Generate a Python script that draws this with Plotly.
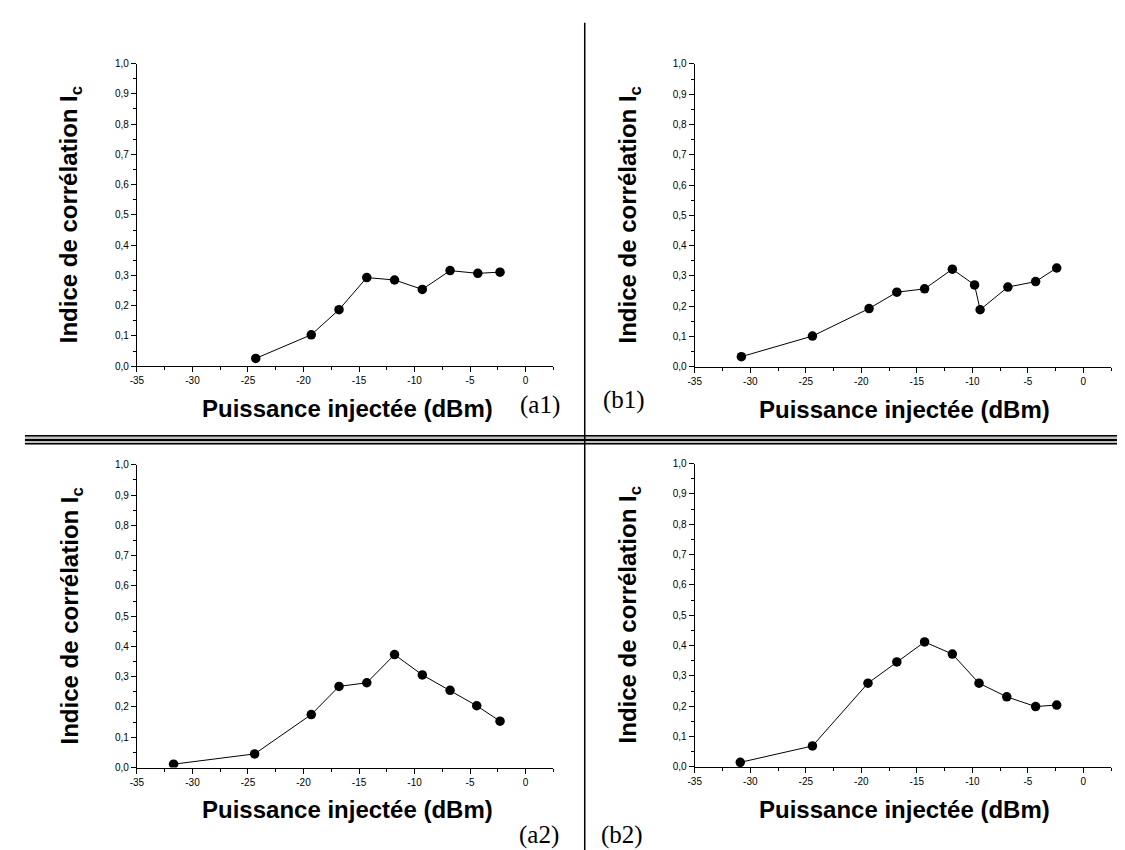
import plotly.graph_objects as go

W, H = 1125, 850

# puissance injectée (dBm) / indice de corrélation Ic
a1_x = [-24.3, -19.3, -16.8, -14.3, -11.8, -9.3, -6.8, -4.3, -2.3]
a1_y = [0.026, 0.104, 0.187, 0.293, 0.285, 0.254, 0.316, 0.307, 0.311]

b1_x = [-30.8, -24.4, -19.3, -16.8, -14.3, -11.8, -9.8, -9.3, -6.8, -4.3, -2.4]
b1_y = [0.033, 0.101, 0.192, 0.246, 0.257, 0.322, 0.270, 0.188, 0.263, 0.281, 0.326]

a2_x = [-31.7, -24.4, -19.3, -16.8, -14.3, -11.8, -9.3, -6.8, -4.4, -2.3]
a2_y = [0.011, 0.045, 0.175, 0.268, 0.280, 0.373, 0.306, 0.255, 0.204, 0.153]

b2_x = [-30.9, -24.4, -19.4, -16.8, -14.3, -11.8, -9.4, -6.9, -4.3, -2.4]
b2_y = [0.015, 0.069, 0.276, 0.346, 0.412, 0.372, 0.276, 0.231, 0.199, 0.204]

x_ticks = [-35, -30, -25, -20, -15, -10, -5, 0]
x_ticklabels = ["-35", "-30", "-25", "-20", "-15", "-10", "-5", "0"]

panel_labels = ["(a1)", "(b1)", "(a2)", "(b2)"]
x_title = "<b>Puissance injectée (dBm)</b>"
y_title = "<b>Indice de corrélation I<sub>c</sub></b>"

# pixel boxes of each plot area: left, right, top, bottom
boxes = [
    (122.7, 541.7, 50.3, 357.3),
    (684.0, 1103.0, 50.7, 357.7),
    (122.7, 541.7, 457.3, 764.3),
    (684.0, 1103.0, 456.0, 763.7),
]
label_pos = [(528, 397), (613, 392), (527, 833), (611, 833)]

series = [(a1_x, a1_y), (b1_x, b1_y), (a2_x, a2_y), (b2_x, b2_y)]

def px(x):
    return x / W

def py(y):
    return 1 - y / H

fig = go.Figure()
font = "Arial, Liberation Sans, sans-serif"

for i, ((xs, ys), (l, r, t, b)) in enumerate(zip(series, boxes), start=1):
    sfx = "" if i == 1 else str(i)
    fig.add_trace(go.Scatter(
        x=xs, y=ys, mode="lines+markers",
        line=dict(color="black", width=1),
        marker=dict(color="black", size=9.5),
        xaxis="x" + sfx, yaxis="y" + sfx, showlegend=False))
    common = dict(showline=True, linecolor="black", linewidth=1.3,
                  ticks="outside", ticklen=5, tickwidth=1, tickcolor="black",
                  showgrid=False, zeroline=False,
                  tickfont=dict(family=font, size=10, color="black"))
    fig.layout["xaxis" + sfx] = dict(
        domain=[px(l), px(r)], anchor="y" + sfx, range=[-35, 2.5],
        tickvals=x_ticks, ticktext=x_ticklabels,
        minor=dict(dtick=2.5, tick0=0, ticklen=3, ticks="outside", tickcolor="black"),
        **common)
    fig.layout["yaxis" + sfx] = dict(
        domain=[py(b), py(t)], anchor="x" + sfx, range=[0, 1.0],
        dtick=0.1, tickformat=".1f",
        minor=dict(dtick=0.05, ticklen=3, ticks="outside", tickcolor="black"),
        **common)
    fig.add_annotation(x=px((l + r) / 2 + 2), y=py(b + 43), xref="paper", yref="paper",
                       xanchor="center", yanchor="middle",
                       text=x_title, showarrow=False,
                       font=dict(family=font, size=24, color="black"))
    fig.add_annotation(x=px(l - 66), y=py((t + b) / 2), xref="paper", yref="paper",
                       xanchor="center", yanchor="middle",
                       text=y_title, showarrow=False, textangle=-90,
                       font=dict(family=font, size=24, color="black"))
    lx, ly = label_pos[i - 1]
    fig.add_annotation(x=px(lx), y=py(ly), xref="paper", yref="paper",
                       xanchor="center", yanchor="middle",
                       text=panel_labels[i - 1], showarrow=False,
                       font=dict(family="Times New Roman, Liberation Serif, serif", size=25, color="black"))

# separators
fig.add_shape(type="rect", xref="paper", yref="paper", x0=px(10), x1=1, y0=py(436.5), y1=py(427.2),
              fillcolor="#c0c0c0", line=dict(width=0))
for yy, w in [(427.8, 1.5), (432.0, 2), (435.8, 1.5)]:
    fig.add_shape(type="line", xref="paper", yref="paper", x0=px(10), x1=1, y0=py(yy), y1=py(yy),
                  line=dict(color="black", width=w))
fig.add_shape(type="line", xref="paper", yref="paper", x0=px(573.3), x1=px(573.3), y0=py(9), y1=0,
              line=dict(color="black", width=1.5))

fig.update_layout(width=W, height=H, margin=dict(l=0, r=0, t=0, b=0),
                  paper_bgcolor="white", plot_bgcolor="white", separators=", ")

fig.write_html("out.html")
